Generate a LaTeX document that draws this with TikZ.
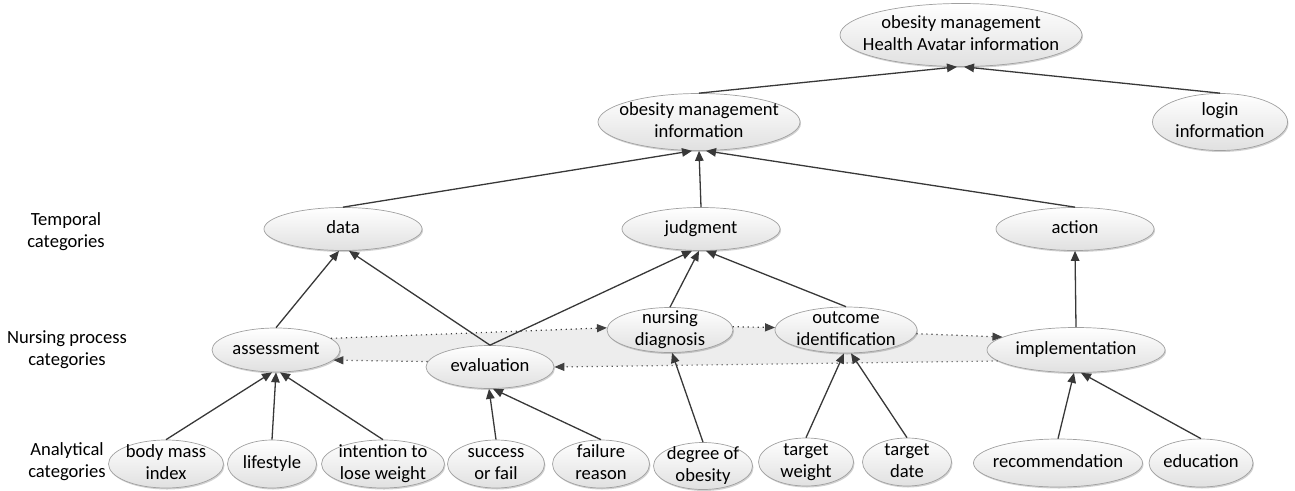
\documentclass[tikz,border=0pt]{standalone}
\usepackage{fontspec}
\setmainfont{Carlito}
\usetikzlibrary{shapes.geometric,arrows.meta,calc,shadows,backgrounds}
\newcommand\ctx[1]{\makebox[0pt]{\raisebox{\dimexpr-0.5\height+0.5\depth\relax}[0pt][0pt]{\begin{tabular}{@{}c@{}}#1\end{tabular}}}}
\definecolor{ellborder}{HTML}{A0A0A0}
\definecolor{linecol}{HTML}{383838}
\definecolor{bandgray}{HTML}{EDEDED}
\tikzset{
  every node/.style={font=\fontsize{18.6}{22}\selectfont},
  ell/.style={ellipse, draw=ellborder, line width=0.7pt, top color=white, bottom color=black!12,
    inner sep=0pt, drop shadow={shadow xshift=1pt, shadow yshift=-1.5pt, opacity=0.18, fill=black}},
  arr/.style={draw=linecol, line width=1.3pt, -{Triangle[length=10pt,width=8.5pt]}},
  cyc/.style={draw=black!75, line width=1.2pt, dash pattern=on 1.2pt off 3.8pt, -{Triangle[length=10pt,width=8pt]}},
  cat/.style={align=center, inner sep=0pt},
}
\begin{document}
\begin{tikzpicture}[x=1pt,y=-1pt]
\useasboundingbox (0,0) rectangle (1295,490);
% category labels
\node[cat] (lT) at (66,232) {Temporal\\categories};
\node[cat] (lN) at (67,350) {Nursing process\\categories};
\node[cat] (lA) at (67,462) {Analytical\\categories};
% ellipses
\node[ell, minimum width=242, minimum height=63] (top) at (961,35) {\ctx{obesity management\\Health Avatar information}};
\node[ell, minimum width=202, minimum height=57] (omi) at (699,122) {\ctx{obesity management\\information}};
\node[ell, minimum width=135, minimum height=57] (login) at (1220,122) {\ctx{login\\information}};
\node[ell, minimum width=158, minimum height=43] (data) at (343,229) {\ctx{data}};
\node[ell, minimum width=158, minimum height=43] (judg) at (701,229) {\ctx{judgment}};
\node[ell, minimum width=158, minimum height=43] (action) at (1075,229) {\ctx{action}};
\node[ell, minimum width=128, minimum height=44] (assess) at (276,350) {\ctx{assessment}};
\node[ell, minimum width=128, minimum height=43] (eval) at (490,367) {\ctx{evaluation}};
\node[ell, minimum width=126, minimum height=45] (nd) at (670,330) {\ctx{nursing\\diagnosis}};
\node[ell, minimum width=142, minimum height=46] (oc) at (846,330) {\ctx{outcome\\identification}};
\node[ell, minimum width=178, minimum height=45] (impl) at (1076,350) {\ctx{implementation}};
\node[ell, minimum width=115, minimum height=48] (bmi) at (166,464) {\ctx{body mass\\index}};
\node[ell, minimum width=89, minimum height=48] (life) at (272,464) {\ctx{lifestyle}};
\node[ell, minimum width=123, minimum height=48] (intent) at (383,464) {\ctx{intention to\\lose weight}};
\node[ell, minimum width=97, minimum height=48] (succ) at (496,464) {\ctx{success\\or fail}};
\node[ell, minimum width=97, minimum height=48] (fail) at (601,464) {\ctx{failure\\reason}};
\node[ell, minimum width=99, minimum height=47] (deg) at (703,466) {\ctx{degree of\\obesity}};
\node[ell, minimum width=95, minimum height=48] (tw) at (806,462) {\ctx{target\\weight}};
\node[ell, minimum width=89, minimum height=48] (td) at (907,462) {\ctx{target\\date}};
\node[ell, minimum width=169, minimum height=48] (rec) at (1058,463) {\ctx{recommendation}};
\node[ell, minimum width=104, minimum height=48] (edu) at (1201,463) {\ctx{education}};
% band
\begin{pgfonlayer}{background}
\fill[bandgray] (assess.12) -- (nd.178) -- (nd.3) -- (oc.178) -- (oc.357) -- (impl.170)
  -- (impl.188) -- (eval.east) -- (eval.175) -- (assess.350) -- cycle;
\end{pgfonlayer}
% cycle arrows
\draw[cyc] (assess.12) -- (nd.178);
\draw[cyc] (nd.3) -- (oc.178);
\draw[cyc] (oc.357) -- (impl.170);
\draw[cyc] (impl.188) -- (eval.east);
\draw[cyc] (eval.175) -- (assess.350);
% hierarchy arrows
\draw[arr] (omi.north) -- ($(top.south)+(-4,0)$);
\draw[arr] (login.north) -- ($(top.south)+(3,0)$);
\draw[arr] (data.north) -- ($(omi.south)+(-7,0)$);
\draw[arr] (judg.north) -- (omi.south);
\draw[arr] (action.north) -- ($(omi.south)+(7,0)$);
\draw[arr] (assess.north) -- ($(data.south)+(-4,0)$);
\draw[arr] (eval.north) -- ($(data.south)+(6,0)$);
\draw[arr] (eval.north) -- ($(judg.south)+(-9,0)$);
\draw[arr] (nd.north) -- ($(judg.south)+(-2,0)$);
\draw[arr] (oc.north) -- ($(judg.south)+(5,0)$);
\draw[arr] (impl.north) -- (action.south);
\draw[arr] (bmi.north) -- ($(assess.south)+(-4,0)$);
\draw[arr] (life.north) -- ($(assess.south)+(0,0)$);
\draw[arr] (intent.north) -- ($(assess.south)+(4,0)$);
\draw[arr] (succ.north) -- ($(eval.south)+(-1,0)$);
\draw[arr] (fail.north) -- ($(eval.south)+(3,0)$);
\draw[arr] (deg.north) -- ($(nd.south)+(2,0)$);
\draw[arr] (tw.north) -- ($(oc.south)+(-2,0)$);
\draw[arr] (td.north) -- ($(oc.south)+(5,0)$);
\draw[arr] (rec.north) -- ($(impl.south)+(-2,0)$);
\draw[arr] (edu.north) -- ($(impl.south)+(5,0)$);
\end{tikzpicture}
\end{document}
